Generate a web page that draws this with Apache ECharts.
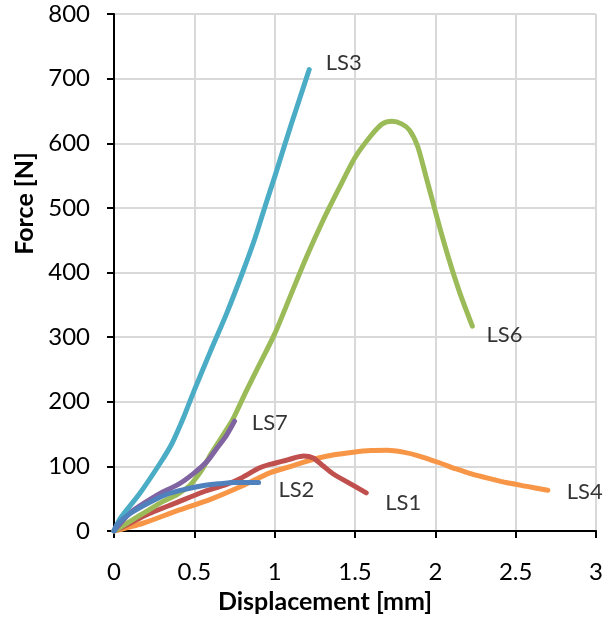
<!DOCTYPE html>
<html>
<head>
<meta charset="utf-8">
<script src="https://cdn.jsdelivr.net/npm/echarts@6/dist/echarts.min.js"></script>
<style>html,body{margin:0;padding:0;background:#fff;}#c{width:606px;height:619px;}</style>
</head>
<body>
<div id="c"></div>
<script>
// Data (x = displacement [mm], y = force [N])
const LS3 = [[0,0],[0.04,20],[0.16,58],[0.29,106],[0.36,135],[0.43,174],[0.5,218],[0.6,278],[0.7,336],[0.8,400],[0.88,455],[0.95,510],[1.0,548],[1.1,627],[1.215,714]];
const LS6 = [[0,0],[0.1,15],[0.2,30],[0.3,45],[0.39,56],[0.47,70],[0.52,85],[0.56,100],[0.6,118],[0.67,145],[0.74,173],[0.82,215],[0.9,255],[1.0,305],[1.1,365],[1.2,425],[1.3,480],[1.4,530],[1.5,578],[1.6,612],[1.67,630],[1.73,634],[1.79,630],[1.84,620],[1.89,595],[1.94,550],[1.98,513],[2.03,467],[2.085,420],[2.15,370],[2.23,317]];
const LS7 = [[0,0],[0.1,28],[0.2,45],[0.3,60],[0.4,72],[0.5,90],[0.58,108],[0.64,128],[0.7,148],[0.75,170]];
const LS2 = [[0,0],[0.02,10],[0.1,27],[0.22,44],[0.33,57],[0.45,65],[0.55,70],[0.65,73],[0.75,75],[0.9,75]];
const LS1 = [[0,0],[0.1,12],[0.2,25],[0.39,44],[0.55,60],[0.7,72],[0.8,83],[0.9,97],[0.97,103],[1.05,108],[1.12,113],[1.18,116],[1.24,113],[1.3,101],[1.36,89],[1.45,76],[1.57,59]];
const LS4 = [[0,0],[0.18,12],[0.39,31],[0.6,49],[0.8,70],[0.97,90],[1.1,100],[1.24,111],[1.37,118],[1.49,122],[1.6,124.5],[1.7,125],[1.8,122],[1.9,116],[2.02,106],[2.13,96],[2.23,88],[2.34,81],[2.44,75],[2.57,69],[2.7,63]];
const labelNames = ['LS3','LS6','LS7','LS2','LS1','LS4'];
const labelPositions = [[1.43,724],[2.43,304],[0.97,168],[1.135,64],[1.80,44],[2.93,61]];
const xTicks = [0,0.5,1,1.5,2,2.5,3];
const yTicks = [0,100,200,300,400,500,600,700,800];

const FONT = 'Lato';
const chart = echarts.init(document.getElementById('c'), null, {renderer:'canvas'});
function line(name, data, color){
  return {name, type:'line', data, smooth:0.25, showSymbol:false, symbol:'none',
    lineStyle:{color, width:5, cap:'round', join:'round'}, itemStyle:{color}, animation:false};
}
chart.setOption({
  animation:false,
  grid:{left:114, right:8, top:14, bottom:87},
  xAxis:{type:'value', min:xTicks[0], max:xTicks[xTicks.length-1], interval:0.5,
    name:'Displacement [mm]', nameLocation:'middle', nameGap:58,
    nameTextStyle:{fontFamily:FONT, fontWeight:'bold', fontSize:25, color:'#000', padding:[0,60,0,0]},
    axisLine:{show:true, onZero:false, lineStyle:{color:'#000', width:2}},
    axisTick:{show:true, inside:false, length:7, lineStyle:{color:'#000', width:2}},
    axisLabel:{fontFamily:FONT, fontSize:24, color:'#000', margin:29},
    splitLine:{show:true, lineStyle:{color:'#d9d9d9', width:2}}},
  yAxis:{type:'value', min:yTicks[0], max:yTicks[yTicks.length-1], interval:100,
    name:'Force [N]', nameLocation:'middle', nameGap:77, nameRotate:90,
    nameTextStyle:{fontFamily:FONT, fontWeight:'bold', fontSize:25, color:'#000', padding:[0,0,0,138]},
    axisLine:{show:true, lineStyle:{color:'#000', width:2}},
    axisTick:{show:true, inside:false, length:7, lineStyle:{color:'#000', width:2}},
    axisLabel:{fontFamily:FONT, fontSize:24, color:'#000', margin:24},
    splitLine:{show:true, lineStyle:{color:'#d9d9d9', width:2}}},
  series:[
    line('LS4', LS4, '#F79646'),
    line('LS1', LS1, '#C0504D'),
    line('LS6', LS6, '#9BBB59'),
    line('LS7', LS7, '#8064A2'),
    line('LS3', LS3, '#4BACC6'),
    line('LS2', LS2, '#4F81BD'),
    {type:'scatter', symbolSize:0, silent:true, animation:false,
     data: labelNames.map((n,i)=>({name:n, value:labelPositions[i]})),
     label:{show:true, position:'inside', formatter:'{b}', fontFamily:FONT, fontSize:22, color:'#000'}}
  ]
});
</script>
</body>
</html>
